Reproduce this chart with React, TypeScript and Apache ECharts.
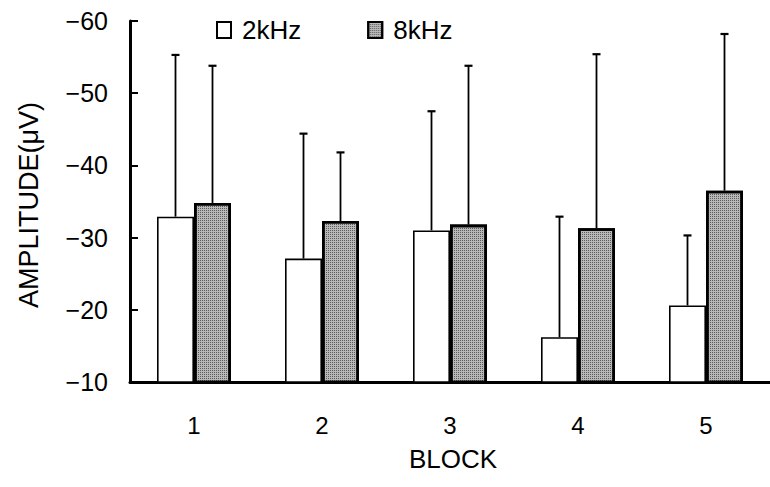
import React, { useEffect, useRef } from "react";
import * as echarts from "echarts";

const categories = ["1", "2", "3", "4", "5"];
const seriesNames = ["2kHz", "8kHz"];
const mean2k = [-32.9, -27.1, -31.0, -16.2, -20.6];
const mean8k = [-34.8, -32.3, -31.8, -31.3, -36.5];
const upper2k = [-55.3, -44.4, -47.5, -32.9, -30.3];
const upper8k = [-53.8, -41.8, -53.8, -55.4, -58.2];
const yTicks = [-60, -50, -40, -30, -20, -10];

const FONT = "'Liberation Sans', Arial, Helvetica, sans-serif";
const BAR_W = 37;

export default function App() {
  const ref = useRef<HTMLDivElement>(null);
  useEffect(() => {
    if (!ref.current) return;
    const chart = echarts.init(ref.current, undefined, { renderer: "svg" });
    const errData: number[][] = [];
    categories.forEach((_, i) => {
      errData.push([i, mean2k[i], upper2k[i], 0]);
      errData.push([i, mean8k[i], upper8k[i], 1]);
    });
    const option: any = {
      animation: false,
      backgroundColor: "#ffffff",
      textStyle: { fontFamily: FONT, color: "#000" },
      grid: { left: 130, top: 21, width: 648, height: 361, containLabel: false },
      legend: {
        data: seriesNames,
        left: 216,
        top: 17,
        padding: 0,
        itemWidth: 14,
        itemHeight: 16,
        itemGap: 66,
        icon: "rect",
        textStyle: { fontFamily: FONT, fontSize: 26, color: "#000", padding: [0, 0, 0, 6] },
      },
      xAxis: {
        type: "category",
        data: categories,
        boundaryGap: true,
        axisLine: { show: true, lineStyle: { color: "#000", width: 3 } },
        axisTick: { show: false },
        axisLabel: { fontFamily: FONT, fontSize: 24, color: "#000", margin: 31 },
        name: "BLOCK",
        nameLocation: "middle",
        nameGap: 64,
        nameTextStyle: { fontFamily: FONT, fontSize: 26, color: "#000", padding: [0, 0, 0, 6] },
        splitLine: { show: false },
      },
      yAxis: {
        type: "value",
        inverse: true,
        min: yTicks[0],
        max: yTicks[yTicks.length - 1],
        interval: 10,
        axisLine: { show: true, lineStyle: { color: "#000", width: 3 } },
        axisTick: { show: true, inside: true, length: 8, lineStyle: { color: "#000", width: 2 } },
        axisLabel: {
          fontFamily: FONT,
          fontSize: 25,
          color: "#000",
          margin: 22,
          formatter: (v: number) => (v < 0 ? "\u2212" + Math.abs(v) : String(v)),
        },
        splitLine: { show: false },
      },
      graphic: [
        {
          type: "text",
          x: 29,
          y: 205,
          rotation: Math.PI / 2,
          style: {
            text: "AMPLITUDE(\u03bcV)",
            fontFamily: FONT,
            fontSize: 27,
            fill: "#000",
            textAlign: "center",
            textVerticalAlign: "middle",
          },
        },
      ],
      series: [
        {
          name: seriesNames[0],
          type: "bar",
          data: mean2k,
          barWidth: BAR_W,
          barGap: "0%",
          clip: true,
          itemStyle: { color: "#ffffff", borderColor: "#000", borderWidth: 1.6 },
          z: 2,
        },
        {
          name: seriesNames[1],
          type: "bar",
          data: mean8k,
          barWidth: BAR_W,
          barGap: "0%",
          clip: true,
          itemStyle: {
            color: "#b8b8b8",
            borderColor: "#000",
            borderWidth: 2.6,
            decal: {
              symbol: "rect",
              symbolSize: 1,
              color: "rgba(0,0,0,0.5)",
              dashArrayX: [1, 1],
              dashArrayY: [1, 1],
              rotation: 0,
            },
          },
          z: 2,
        },
        {
          type: "custom",
          data: errData,
          z: 3,
          silent: true,
          renderItem: (params: any, api: any) => {
            const ci = api.value(0);
            const m = api.value(1);
            const u = api.value(2);
            const which = api.value(3);
            const p1 = api.coord([ci, m]);
            const p2 = api.coord([ci, u]);
            const off = which === 0 ? -BAR_W / 2 : BAR_W / 2;
            const x = p1[0] + off;
            return {
              type: "group",
              children: [
                {
                  type: "line",
                  shape: { x1: x, y1: p1[1], x2: x, y2: p2[1] },
                  style: { stroke: "#000", lineWidth: 1.8 },
                },
                {
                  type: "line",
                  shape: { x1: x - 4, y1: p2[1], x2: x + 4, y2: p2[1] },
                  style: { stroke: "#000", lineWidth: 2.2 },
                },
              ],
            };
          },
        },
      ],
    };
    chart.setOption(option);
    return () => chart.dispose();
  }, []);
  return (
    <div
      ref={ref}
      style={{ position: "absolute", left: 0, top: 0, width: 770, height: 487 }}
    />
  );
}
